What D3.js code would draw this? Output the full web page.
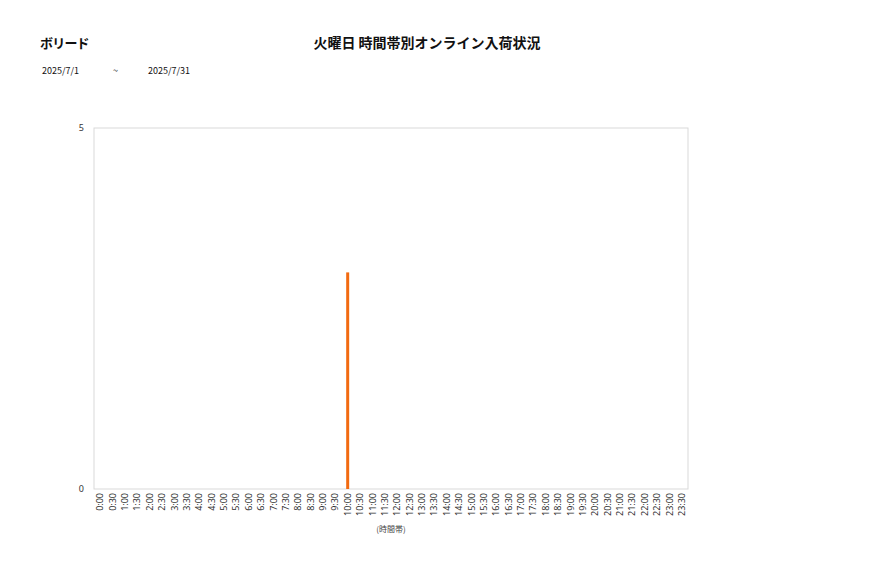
<!DOCTYPE html>
<html><head><meta charset="utf-8">
<script src="https://cdn.jsdelivr.net/npm/d3@7"></script>
<style>body{margin:0;background:#fff;font-family:"Noto Sans CJK JP","Noto Sans",sans-serif;}</style>
</head><body><svg id="c" width="877" height="578"></svg>
<script>
const categories = [];
["0","1","2","3","4","5","6","7","8","9","10","11","12","13","14","15","16","17","18","19","20","21","22","23"].forEach(h=>{categories.push(h+":00");categories.push(h+":30");});
const values = categories.map(c => c === "10:00" ? 3 : 0);
const yTicks = [0, 5];

const svg = d3.select("#c");
const m = {l:94, r:688, t:128, b:489};
const x = d3.scaleBand().domain(categories).range([m.l, m.r]);
const y = d3.scaleLinear().domain([0,5]).range([m.b, m.t]);

svg.append("rect").attr("x",m.l).attr("y",m.t).attr("width",m.r-m.l).attr("height",m.b-m.t)
  .attr("fill","none").attr("stroke","#d9d9d9").attr("stroke-width",1);

svg.selectAll(".bar").data(categories).enter().append("rect")
  .attr("x", d => x(d) + x.bandwidth()/2 - 1.5)
  .attr("width", 3)
  .attr("y", (d,i) => y(values[i]))
  .attr("height", (d,i) => m.b - y(values[i]))
  .attr("fill", "#f26a10");

const yAxis = svg.append("g").attr("transform",`translate(${m.l},0)`)
  .call(d3.axisLeft(y).tickValues(yTicks).tickFormat(d3.format("d")).tickSize(0).tickPadding(10));
yAxis.select(".domain").remove();
yAxis.selectAll("text").attr("font-size",9).attr("fill","#333").attr("font-family","'Noto Sans',sans-serif");

const xAxis = svg.append("g").attr("transform",`translate(0,${m.b})`)
  .call(d3.axisBottom(x).tickSize(0));
xAxis.select(".domain").remove();
xAxis.selectAll("text")
  .attr("transform","rotate(-90)")
  .attr("text-anchor","end")
  .attr("x",-4).attr("y",0).attr("dy","0.35em")
  .attr("font-size",9).attr("fill","#333").attr("font-family","'Noto Sans',sans-serif");

svg.append("text").attr("x",391).attr("y",532).attr("text-anchor","middle")
  .attr("font-size",8).attr("fill","#444").text("(時間帯)");

svg.append("text").attr("x",40).attr("y",48).attr("font-size",13).attr("font-weight","bold")
  .attr("letter-spacing",-0.8).attr("fill","#111").text("ボリード");
svg.append("text").attr("x",427).attr("y",48).attr("text-anchor","middle").attr("font-size",14)
  .attr("font-weight","bold").attr("fill","#111").text("火曜日 時間帯別オンライン入荷状況");
svg.append("text").attr("x",42).attr("y",74).attr("font-size",9).attr("fill","#111").text("2025/7/1");
svg.append("text").attr("x",113).attr("y",74).attr("font-size",9).attr("fill","#111").text("~");
svg.append("text").attr("x",148).attr("y",74).attr("font-size",9).attr("fill","#111").text("2025/7/31");
</script></body></html>
